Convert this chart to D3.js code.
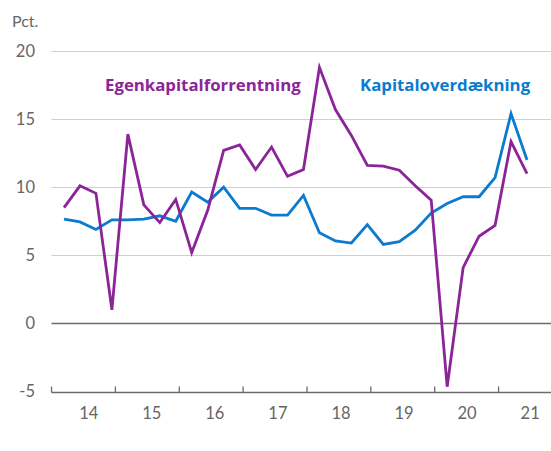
<!DOCTYPE html>
<html>
<head>
<meta charset="utf-8">
<script src="https://cdn.jsdelivr.net/npm/d3@7"></script>
<style>
  body { margin: 0; background: #fff; }
  text { font-family: Lato, 'Open Sans', sans-serif; }
</style>
</head>
<body>
<div id="chart"></div>
<script>
// quarterly data, 2014 Q1 - 2021 Q2
const years = [14, 15, 16, 17, 18, 19, 20, 21];
const egenkapital = [8.5, 10.1, 9.55, 1.0, 13.9, 8.7, 7.4, 9.1, 5.2, 8.3, 12.7, 13.1, 11.3, 12.95, 10.8, 11.3,
    18.8, 15.7, 13.8, 11.6, 11.55, 11.25, 10.1, 9.05, -4.65, 4.1, 6.4, 7.2, 13.35, 11.0];
const kapitaloverdaekning = [7.65, 7.45, 6.9, 7.6, 7.6, 7.65, 7.9, 7.5, 9.65, 8.9, 10.0, 8.45, 8.45, 7.95, 7.95, 9.4,
    6.65, 6.05, 5.9, 7.25, 5.8, 6.0, 6.85, 8.1, 8.8, 9.3, 9.3, 10.7, 15.4, 12.0];
const yTicks = [-5, 0, 5, 10, 15, 20];

const width = 551,
    height = 451;

const purple = '#8c2499',
    blue = '#0a7bce';

const svg = d3.select('#chart').append('svg').attr('width', width).attr('height', height);

const x = d3.scaleLinear().domain([0, egenkapital.length - 1]).range([64, 527]);
const y = d3.scaleLinear().domain([-5, 20]).range([391.5, 51]);
const left = x(-0.78);

// gridlines
svg.append('g')
    .selectAll('line')
    .data(yTicks.filter((d) => d !== -5))
    .enter()
    .append('line')
    .attr('x1', left)
    .attr('x2', width)
    .attr('y1', (d) => Math.round(y(d)) + 0.5)
    .attr('y2', (d) => Math.round(y(d)) + 0.5)
    .attr('stroke', (d) => (d === 0 ? '#6b6b6b' : '#cfcfcf'))
    .attr('stroke-width', (d) => (d === 0 ? 1.5 : 1.2));

// y tick labels
svg.append('g')
    .selectAll('text')
    .data(yTicks)
    .enter()
    .append('text')
    .attr('x', 35)
    .attr('y', (d) => y(d) + 5.5)
    .attr('text-anchor', 'end')
    .attr('fill', '#666')
    .style('font-size', '16.5px')
    .text((d) => d);

svg.append('text').attr('x', 12).attr('y', 27).attr('fill', '#666').style('font-size', '16px').text('Pct.');

// x axis
const axisY = Math.round(y(-5)) + 0.5;
svg.append('line')
    .attr('x1', left)
    .attr('x2', width)
    .attr('y1', axisY)
    .attr('y2', axisY)
    .attr('stroke', '#6b6b6b')
    .attr('stroke-width', 1.5);

svg.append('g')
    .selectAll('line')
    .data(years)
    .enter()
    .append('line')
    .attr('x1', (d, i) => x(i * 4 - 0.78))
    .attr('x2', (d, i) => x(i * 4 - 0.78))
    .attr('y1', axisY - 6)
    .attr('y2', axisY)
    .attr('stroke', '#6b6b6b')
    .attr('stroke-width', 1.3);

svg.append('g')
    .selectAll('text')
    .data(years)
    .enter()
    .append('text')
    .attr('x', (d, i) => x(i * 4 + 1.55 - i * 0.05))
    .attr('y', 419)
    .attr('text-anchor', 'middle')
    .attr('fill', '#666')
    .style('font-size', '16.5px')
    .text((d) => d);

// lines
const line = d3
    .line()
    .x((d, i) => x(i))
    .y((d) => y(d));

svg.append('path')
    .datum(kapitaloverdaekning)
    .attr('d', line)
    .attr('fill', 'none')
    .attr('stroke', blue)
    .attr('stroke-width', 2.8)
    .attr('stroke-linejoin', 'miter');

svg.append('path')
    .datum(egenkapital)
    .attr('d', line)
    .attr('fill', 'none')
    .attr('stroke', purple)
    .attr('stroke-width', 2.8)
    .attr('stroke-linejoin', 'miter');

// series labels
svg.append('text')
    .attr('x', 105)
    .attr('y', 91)
    .attr('fill', purple)
    .style('font-family', "'Open Sans', sans-serif")
    .style('font-size', '16.8px')
    .style('font-weight', 'bold')
    .text('Egenkapitalforrentning');

svg.append('text')
    .attr('x', 360)
    .attr('y', 91)
    .attr('fill', blue)
    .style('font-family', "'Open Sans', sans-serif")
    .style('font-size', '16.8px')
    .style('font-weight', 'bold')
    .text('Kapitaloverdækning');
</script>
</body>
</html>
